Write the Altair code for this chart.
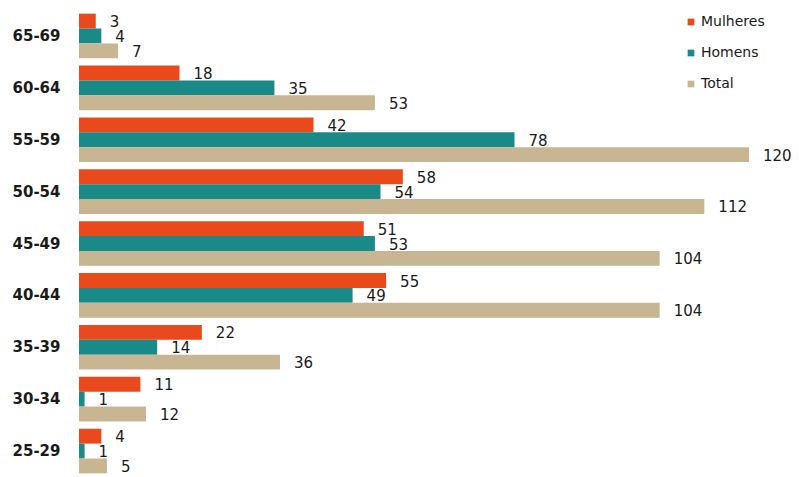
import altair as alt
import pandas as pd

categories = ["65-69", "60-64", "55-59", "50-54", "45-49", "40-44", "35-39", "30-34", "25-29"]
series = ["Mulheres", "Homens", "Total"]
mulheres = [3, 18, 42, 58, 51, 55, 22, 11, 4]
homens = [4, 35, 78, 54, 53, 49, 14, 1, 1]
total = [7, 53, 120, 112, 104, 104, 36, 12, 5]
colors = ["#EA4A1B", "#1A8A89", "#C8B693"]

rows = []
for i, c in enumerate(categories):
    for s, vals in zip(series, [mulheres, homens, total]):
        rows.append({"faixa": c, "serie": s, "valor": vals[i]})
df = pd.DataFrame(rows)

y = alt.Y("faixa:N", sort=categories, title=None,
          scale=alt.Scale(paddingInner=0.14, paddingOuter=0.07),
          axis=alt.Axis(domain=False, ticks=False, labelFont="DejaVu Sans",
                        labelFontWeight="bold", labelFontSize=15, labelColor="#1a1a1a",
                        labelPadding=19))
yoff = alt.YOffset("serie:N", sort=series, scale=alt.Scale(paddingInner=0, paddingOuter=0))
x = alt.X("valor:Q", scale=alt.Scale(domain=[0, 120], nice=False), axis=None, title=None)

bars = alt.Chart(df).mark_bar(cornerRadius=0).encode(
    x=x, y=y, yOffset=yoff,
    color=alt.Color("serie:N", sort=series,
                    scale=alt.Scale(domain=series, range=colors),
                    legend=alt.Legend(title=None, orient="none", legendX=605, legendY=5,
                                      symbolType="square", symbolSize=45,
                                      labelFont="DejaVu Sans", labelFontSize=14,
                                      labelColor="#1a1a1a", rowPadding=17,
                                      symbolStrokeWidth=0, labelOffset=3)),
)

labels = alt.Chart(df).mark_text(align="left", baseline="middle", dx=14, dy=1,
                                 font="DejaVu Sans", fontSize=15, color="#1a1a1a").encode(
    x=x, y=y, yOffset=yoff, text="valor:Q"
)

chart = (bars + labels).properties(
    width=670, height=467,
    autosize=alt.AutoSizeParams(type="none"),
    padding={"left": 79, "top": 10, "right": 50, "bottom": 0},
    background="white",
).configure_view(strokeWidth=0, stroke="transparent")

chart.save("out.html", embed_options={"renderer": "svg", "actions": False})
